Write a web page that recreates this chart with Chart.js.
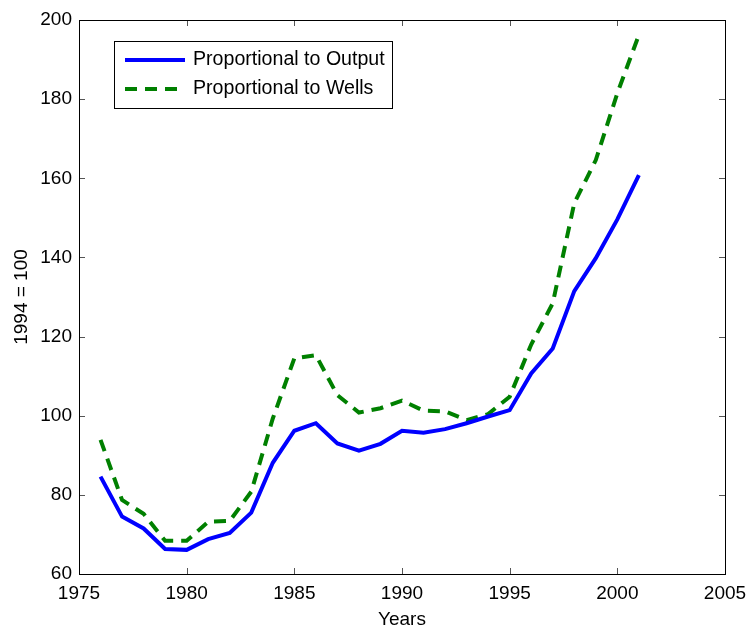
<!DOCTYPE html>
<html>
<head>
<meta charset="utf-8">
<script src="https://cdn.jsdelivr.net/npm/chart.js@4.4.1/dist/chart.umd.min.js"></script>
<style>
    html, body { margin: 0; padding: 0; background: #fff; }
    #wrap { width: 749px; height: 627px; }
</style>
</head>
<body>
<div id="wrap"><canvas id="chart" width="749" height="627"></canvas></div>
<script>
// Index values, 1994 = 100
const years = [1976, 1977, 1978, 1979, 1980, 1981, 1982, 1983, 1984, 1985, 1986, 1987, 1988,
    1989, 1990, 1991, 1992, 1993, 1994, 1995, 1996, 1997, 1998, 1999, 2000, 2001];
const outputIndex = [84.6, 74.5, 71.5, 66.3, 66.1, 68.8, 70.4, 75.5, 88.1, 96.2, 98.1, 93.0, 91.2,
    92.9, 96.2, 95.7, 96.6, 98.1, 99.8, 101.4, 110.7, 117.0, 131.5, 139.8, 149.6, 160.8];
const wellsIndex = [93.9, 78.7, 75.2, 68.4, 68.4, 73.2, 73.4, 80.8, 99.3, 114.5, 115.3, 105.2, 100.8,
    101.9, 103.8, 101.3, 101.1, 98.9, 100.4, 104.8, 118.0, 128.4, 153.7, 164.6, 181.5, 196.2];
const xTicks = [1975, 1980, 1985, 1990, 1995, 2000, 2005];
const yTicks = [60, 80, 100, 120, 140, 160, 180, 200];

const FONT = '"Liberation Sans", Arial, sans-serif';

function toPoints(values) {
    return years.map((y, i) => ({ x: y, y: values[i] }));
}

// matlab style box with inward ticks + legend inside the axes
const boxPlugin = {
    id: 'boxPlugin',
    afterDraw(chart) {
        const ctx = chart.ctx;
        const a = chart.chartArea;
        const xs = chart.scales.x, ys = chart.scales.y;
        const len = 6;
        ctx.save();
        ctx.strokeStyle = '#555';
        ctx.lineWidth = 1;
        ctx.beginPath();
        xTicks.forEach(function(t) {
            const px = Math.round(xs.getPixelForValue(t)) + 0.5;
            ctx.moveTo(px, a.bottom); ctx.lineTo(px, a.bottom - len);
            ctx.moveTo(px, a.top); ctx.lineTo(px, a.top + len);
        });
        yTicks.forEach(function(t) {
            const py = Math.round(ys.getPixelForValue(t)) + 0.5;
            ctx.moveTo(a.left, py); ctx.lineTo(a.left + len, py);
            ctx.moveTo(a.right, py); ctx.lineTo(a.right - len, py);
        });
        ctx.stroke();
        ctx.strokeStyle = '#000';
        ctx.strokeRect(Math.round(a.left) + 0.5, Math.round(a.top) + 0.5,
            Math.round(a.right - a.left), Math.round(a.bottom - a.top));

        // legend
        const lx = 114, ly = 41, lw = 278, lh = 67;
        ctx.fillStyle = '#fff';
        ctx.fillRect(lx, ly, lw, lh);
        ctx.strokeStyle = '#000';
        ctx.strokeRect(lx + 0.5, ly + 0.5, lw, lh);
        ctx.font = '19.6px ' + FONT;
        ctx.textBaseline = 'middle';
        chart.data.datasets.forEach(function(ds, i) {
            const cy = 60 + i * 29;
            ctx.strokeStyle = ds.borderColor;
            ctx.lineWidth = ds.borderWidth;
            ctx.setLineDash(ds.borderDash || []);
            ctx.beginPath();
            ctx.moveTo(125, cy); ctx.lineTo(185, cy);
            ctx.stroke();
            ctx.setLineDash([]);
            ctx.fillStyle = '#000';
            ctx.fillText(ds.label, 193, cy);
        });
        ctx.restore();
    }
};

new Chart(document.getElementById('chart'), {
    type: 'line',
    data: {
        datasets: [
            {
                label: 'Proportional to Output',
                data: toPoints(outputIndex),
                borderColor: '#0000ff',
                borderWidth: 4,
                pointRadius: 0,
                tension: 0,
                fill: false
            },
            {
                label: 'Proportional to Wells',
                data: toPoints(wellsIndex),
                borderColor: '#008000',
                borderWidth: 4,
                borderDash: [12, 8],
                pointRadius: 0,
                tension: 0,
                fill: false
            }
        ]
    },
    options: {
        responsive: false,
        animation: false,
        layout: { padding: { top: 20, right: 24, left: 0, bottom: 0 } },
        plugins: {
            legend: { display: false },
            tooltip: { enabled: false }
        },
        scales: {
            x: {
                type: 'linear',
                min: 1975,
                max: 2005,
                afterBuildTicks: function(scale) {
                    scale.ticks = xTicks.map(v => ({ value: v }));
                },
                afterFit: function(scale) {
                    scale.height = 53;
                    scale.paddingLeft = 0;
                    scale.paddingRight = 0;
                },
                grid: { display: false, drawTicks: false },
                border: { display: false },
                ticks: {
                    color: '#000',
                    padding: 8,
                    maxRotation: 0,
                    font: { family: FONT, size: 19 },
                    callback: v => String(v)
                },
                title: {
                    display: true,
                    text: 'Years',
                    color: '#000',
                    padding: { top: 0, bottom: -4 },
                    font: { family: FONT, size: 19 }
                }
            },
            y: {
                min: 60,
                max: 200,
                afterBuildTicks: function(scale) {
                    scale.ticks = yTicks.map(v => ({ value: v }));
                },
                afterFit: function(scale) { scale.width = 79; },
                grid: { display: false, drawTicks: false },
                border: { display: false },
                ticks: {
                    color: '#000',
                    padding: 7,
                    font: { family: FONT, size: 19 }
                },
                title: {
                    display: true,
                    text: '1994 = 100',
                    color: '#000',
                    padding: { top: 10, bottom: 0 },
                    font: { family: FONT, size: 19 }
                }
            }
        }
    },
    plugins: [boxPlugin]
});
</script>
</body>
</html>
